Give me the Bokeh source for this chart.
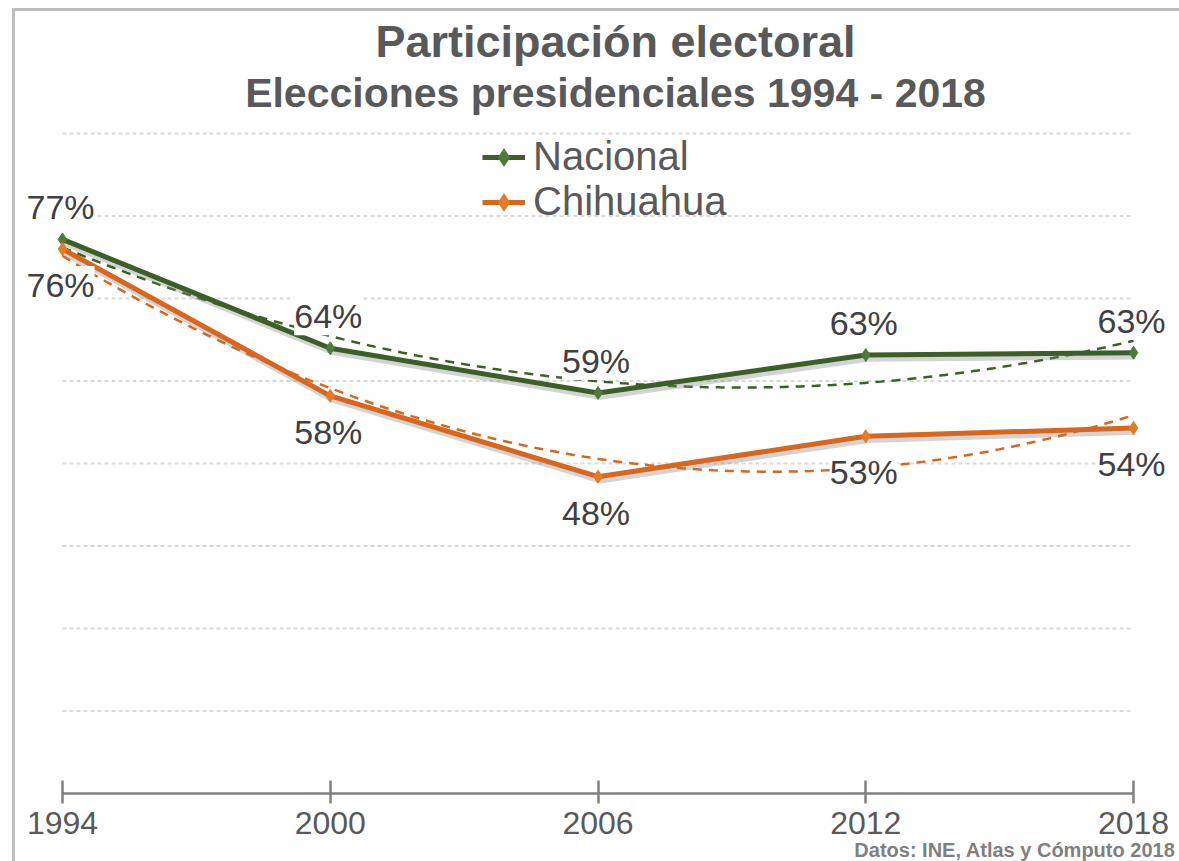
import numpy as np
from bokeh.plotting import figure
from bokeh.models import (Range1d, FixedTicker, ColumnDataSource, LabelSet, Label,
                          Legend, LegendItem, Title)
from bokeh.core.properties import value
from bokeh.embed import file_html
from bokeh.resources import INLINE

# ---------------- data ----------------
years = [1994, 2000, 2006, 2012, 2018]
nacional = [77.16, 63.97, 58.55, 63.14, 63.43]
chihuahua = [76.0, 58.2, 48.4, 53.3, 54.3]
tick_labels = ["1994", "2000", "2006", "2012", "2018"]
grid_ticks = [20, 30, 40, 50, 60, 70, 80, 90]
series_names = ["Nacional", "Chihuahua"]

title_text = "Participación electoral"
subtitle_text = "Elecciones presidenciales 1994 - 2018"
source_text = "Datos: INE, Atlas y Cómputo 2018"

# ---------------- layout constants (pixels) ----------------
W, H = 1179, 861
PLOT_L, PLOT_R = 62, 1133      # where first / last year sit
PLOT_T, PLOT_B = 133, 793      # where top gridline / axis sit
Y_MIN, Y_MAX = 10, 90
TITLE_Y, SUBTITLE_Y, TITLE_X = 41, 92, 615

px_x = (PLOT_R - PLOT_L) / (years[-1] - years[0])
px_y = (PLOT_B - PLOT_T) / (Y_MAX - Y_MIN)
x_start = years[0] - PLOT_L / px_x
x_end = years[-1] + (W - PLOT_R) / px_x
y_end = Y_MAX + PLOT_T / px_y

GREEN = "#3A5F27"
GREEN_M = "#4F7A3C"
ORANGE = "#D9661C"
ORANGE_M = "#E57B25"
TEXT = "#595959"
FONT = "Liberation Sans"

p = figure(width=W, height=H,
           x_range=Range1d(x_start, x_end), y_range=Range1d(Y_MIN, y_end),
           y_axis_location=None,
           output_backend="svg", toolbar_location=None,
           min_border_left=0, min_border_right=0,
           min_border_top=0, min_border_bottom=H - PLOT_B)
p.outline_line_color = None
p.background_fill_alpha = 0
p.border_fill_alpha = 0
p.styles = {
    "background-image": "linear-gradient(#bfbfbf,#bfbfbf), linear-gradient(#bfbfbf,#bfbfbf)",
    "background-size": "3px 100%, 100% 3px",
    "background-position": "12px 8px, 12px 8px",
    "background-repeat": "no-repeat",
    "background-color": "white",
}

for g in p.grid:
    g.visible = False

# horizontal gridlines spanning the year range
p.multi_line(xs=[[years[0], years[-1]] for _ in grid_ticks],
             ys=[[g, g] for g in grid_ticks],
             line_color="#d9d9d9", line_width=2, line_dash="4 3")

# trend lines (quadratic fit of each series, as in the original)
def trend(vals):
    c = np.polyfit(years, vals, 2)
    xs = np.linspace(years[0], years[-1], 200)
    return xs, np.polyval(c, xs)

tx, ty = trend(nacional)
p.line(tx, ty, line_color=GREEN, line_width=2.5, line_dash="9 7")
tx, ty = trend(chihuahua)
p.line(tx, ty, line_color=ORANGE, line_width=2.5, line_dash="9 7")

# soft shadows
sx = [y + 0.05 for y in years]
p.line(sx, [v - 0.45 for v in nacional], line_color="#808080", line_alpha=0.35, line_width=6)
p.line(sx, [v - 0.45 for v in chihuahua], line_color="#808080", line_alpha=0.35, line_width=6)

ln = p.line(years, nacional, line_color=GREEN, line_width=5, line_join="round")
mn = p.scatter(years, nacional, marker="diamond", size=13, fill_color=GREEN_M,
               line_color=GREEN_M)
lc = p.line(years, chihuahua, line_color=ORANGE, line_width=5, line_join="round")
mc = p.scatter(years, chihuahua, marker="diamond", size=13, fill_color=ORANGE_M,
               line_color=ORANGE_M)

# data labels
all_vals = nacional + chihuahua
lab = ColumnDataSource(dict(
    x=years + years,
    y=all_vals,
    text=[f"{round(v)}%" for v in all_vals],
    dy=[32] * len(years) + [-36] * len(years),
))
p.add_layout(LabelSet(x="x", y="y", text="text", source=lab,
                      x_offset=-2, y_offset="dy",
                      text_align="center", text_baseline="middle",
                      text_font=value(FONT), text_font_size="34px",
                      text_color="#404040",
                      background_fill_color="white"))

# x axis
ax = p.xaxis[0]
ax.ticker = FixedTicker(ticks=years)
ax.bounds = (years[0], years[-1])
ax.major_label_overrides = {y: t for y, t in zip(years, tick_labels)}
ax.axis_line_color = "#808080"
ax.axis_line_width = 2.5
ax.major_tick_line_color = "#808080"
ax.major_tick_line_width = 2.5
ax.major_tick_in = 13
ax.major_tick_out = 10
ax.minor_tick_line_color = None
ax.major_label_text_font = FONT
ax.major_label_text_font_size = "32px"
ax.major_label_text_color = TEXT
ax.major_label_standoff = 8

# source note under the axis
p.add_layout(Title(text=source_text, align="right", offset=4, standoff=0,
                   vertical_align="bottom",
                   text_font=FONT, text_font_size="20px", text_font_style="bold",
                   text_color="#7f7f7f"), "below")

# legend
legend = Legend(items=[LegendItem(label=series_names[0], renderers=[ln, mn]),
                       LegendItem(label=series_names[1], renderers=[lc, mc])],
                location=(482, 569), orientation="vertical",
                padding=0, margin=0, spacing=0,
                glyph_width=43, glyph_height=44, label_height=44,
                label_standoff=8,
                label_text_font=FONT, label_text_font_size="40px",
                label_text_color=TEXT,
                border_line_color=None, background_fill_alpha=0)
p.add_layout(legend)

# titles
p.add_layout(Label(x=TITLE_X, y=PLOT_B - TITLE_Y, x_units="screen", y_units="screen",
                   text=title_text, text_align="center", text_baseline="middle",
                   text_font=FONT, text_font_size="45px", text_font_style="bold",
                   text_color=TEXT))
p.add_layout(Label(x=TITLE_X, y=PLOT_B - SUBTITLE_Y, x_units="screen", y_units="screen",
                   text=subtitle_text, text_align="center", text_baseline="middle",
                   text_font=FONT, text_font_size="41px", text_font_style="bold",
                   text_color=TEXT))

open("out.html", "w").write(file_html(p, INLINE))
